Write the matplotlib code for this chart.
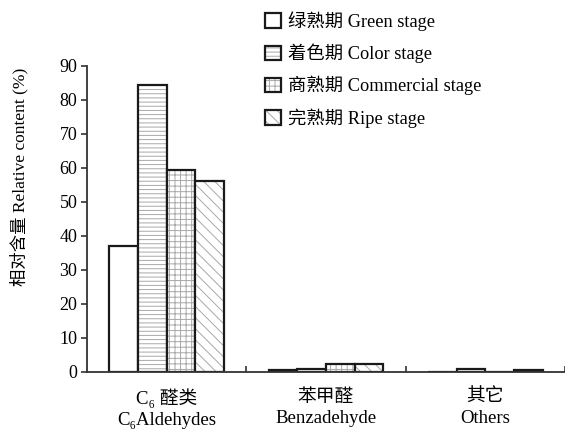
import numpy as np
import matplotlib
matplotlib.use('Agg')
import matplotlib.pyplot as plt
from matplotlib.legend_handler import HandlerTuple

plt.rcParams['font.family'] = ['Liberation Serif', 'Noto Sans CJK SC', 'DejaVu Serif']
plt.rcParams['hatch.linewidth'] = 0.7

# 数据
groups = ['C₆ 醛类\nC₆Aldehydes', '苯甲醛\nBenzadehyde', '其它\nOthers']
stages = ['绿熟期 Green stage', '着色期 Color stage',
          '商熟期 Commercial stage', '完熟期 Ripe stage']
green = [37.0, 0.5, 0.0]
color = [84.5, 1.0, 1.0]
commercial = [59.5, 2.2, 0.0]
ripe = [56.0, 2.2, 0.5]
values = [green, color, commercial, ripe]
hatches = ['', '----', '+++', '\\\\\\']

fig = plt.figure(figsize=(5.65, 4.33), dpi=100)
ax = fig.add_axes([0.154, 0.141, 0.846, 0.707])

x = np.arange(len(groups))
w = 0.18
handles = []
for i, v in enumerate(values):
    pos = x + (i - 1.5) * w
    # 先画灰色阴影, 再画黑色边框
    b1 = ax.bar(pos, v, w, color='white', edgecolor='#a8a8a8', linewidth=0, hatch=hatches[i])
    b2 = ax.bar(pos, v, w, fill=False, edgecolor='#1a1a1a', linewidth=1.6)
    handles.append((b1.patches[0], b2.patches[0]))

ax.set_xlim(-0.5, 2.5)
ax.set_ylim(0, 90)
ax.set_yticks(range(0, 91, 10))
ax.set_xticks(x)
ax.set_xticklabels(groups, fontsize=13.5, linespacing=1.3)
ax.set_xticks([0.5, 1.5, 2.5], minor=True)
ax.tick_params(axis='x', which='major', length=0, pad=12)
ax.tick_params(axis='x', which='minor', direction='in', length=4, width=1.2, color='#333333')
ax.tick_params(axis='y', direction='out', length=4, width=1.2, color='#333333', labelsize=13, pad=3)
for s in ['top', 'right']:
    ax.spines[s].set_visible(False)
for s in ['left', 'bottom']:
    ax.spines[s].set_linewidth(1.3)
    ax.spines[s].set_color('#333333')

ax.set_ylabel('相对含量 Relative content (%)', fontsize=12.5)
ax.yaxis.set_label_coords(-0.122, 0.637)

fig.legend(handles, stages, loc='upper left', bbox_to_anchor=(0.453, 0.995),
           frameon=False, fontsize=13.2, handlelength=0.85, handleheight=0.85,
           handletextpad=0.4, labelspacing=0.69, borderpad=0,
           handler_map={tuple: HandlerTuple(ndivide=1)})

fig.savefig('out.png', dpi=100)
